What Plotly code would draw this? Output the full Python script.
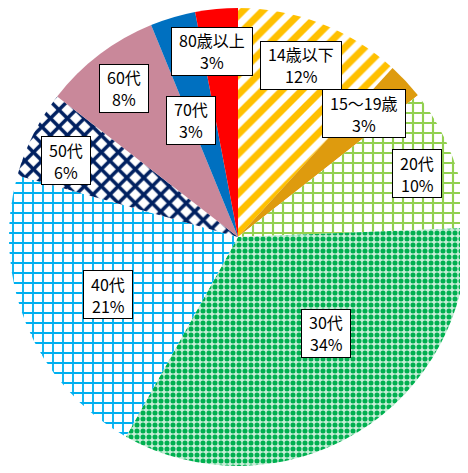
import math
import plotly.graph_objects as go

# ---- data ----
categories = ["14歳以下", "15～19歳", "20代", "30代", "40代", "50代", "60代", "70代", "80歳以上"]
values = [11.8, 2.6, 10.0, 33.8, 21.2, 6.2, 8.3, 3.2, 3.0]

# ---- styles ----
fg_colors = ["#FFC000", "#DE9B0E", "#92D050", "#00B050", "#00B0F0", "#002060", "#C9889A", "#0070C0", "#FF0000"]
bg_colors = ["#FFFFFF", "#DE9B0E", "#FFFFFF", "#C8EED8", "#FFFFFF", "#FFFFFF", "#C9889A", "#0070C0", "#FF0000"]
shapes = ["/", "", "+", ".", "+", "x", "", "", ""]
pat_sizes = [14, 8, 10, 6, 10, 12, 8, 8, 8]
solidity = [0.5, 0.3, 0.38, 0.55, 0.33, 0.5, 0.3, 0.3, 0.3]
# label placement (polar, relative to slice middle)
label_r = [0.80, 0.77, 0.83, 0.57, 0.62, 0.82, 0.82, 0.55, 0.82]
label_dang = [-1, -1.4, 0.8, -11, -1.4, -2.7, -0.3, -5.4, -2.6]
FONT = "Noto Sans CJK JP"
FS = 16
LINE_GAP = 22


def text_width(s):
    w = 0.0
    for ch in s:
        if ord(ch) > 0x2000:
            w += FS
        elif ch == "%":
            w += FS * 0.8
        else:
            w += FS * 0.56
    return w


# page has an 8px body margin; figure sized to fill the rest of the view
W, H = 460, 465
ml, mr, mt, mb = 0, 0, 0, 7
pw, ph = W - ml - mr, H - mt - mb
R = min(pw, ph) / 2

fig = go.Figure(go.Pie(
    labels=categories, values=values, sort=False, direction="clockwise", rotation=0,
    textinfo="none", hoverinfo="label+percent",
    marker=dict(colors=bg_colors, line=dict(width=0),
                pattern=dict(shape=shapes, fgcolor=fg_colors, bgcolor=bg_colors, fgopacity=1,
                             size=pat_sizes, solidity=solidity, fillmode="overlay")),
    showlegend=False,
))

total = sum(values)
cum = 0.0
annotations = []
for i, (c, v) in enumerate(zip(categories, values)):
    mid = (cum + v / 2) / total
    cum += v
    ang = math.radians(mid * 360 + label_dang[i])
    x = 0.5 + label_r[i] * R * math.sin(ang) / pw
    y = 0.5 + label_r[i] * R * math.cos(ang) / ph
    pct = f"{round(v / total * 100)}%"
    common = dict(x=x, y=y, xref="paper", yref="paper", xanchor="center", yanchor="middle",
                  showarrow=False)
    bw = max(text_width(c), text_width(pct)) + 14
    # box
    annotations.append(dict(common, text=" ", width=bw, height=47, borderpad=0,
                            bgcolor="#FFFFFF", bordercolor="#000000", borderwidth=1,
                            font=dict(family=FONT, size=FS)))
    # two text lines
    annotations.append(dict(common, text=c, yshift=LINE_GAP / 2,
                            font=dict(family=FONT, size=FS, color="#000000")))
    annotations.append(dict(common, text=pct, yshift=-LINE_GAP / 2,
                            font=dict(family=FONT, size=FS, color="#000000")))

fig.update_layout(
    width=W, height=H, margin=dict(l=ml, r=mr, t=mt, b=mb),
    paper_bgcolor="#FFFFFF", plot_bgcolor="#FFFFFF",
    annotations=annotations,
)
fig.write_html("out.html")
